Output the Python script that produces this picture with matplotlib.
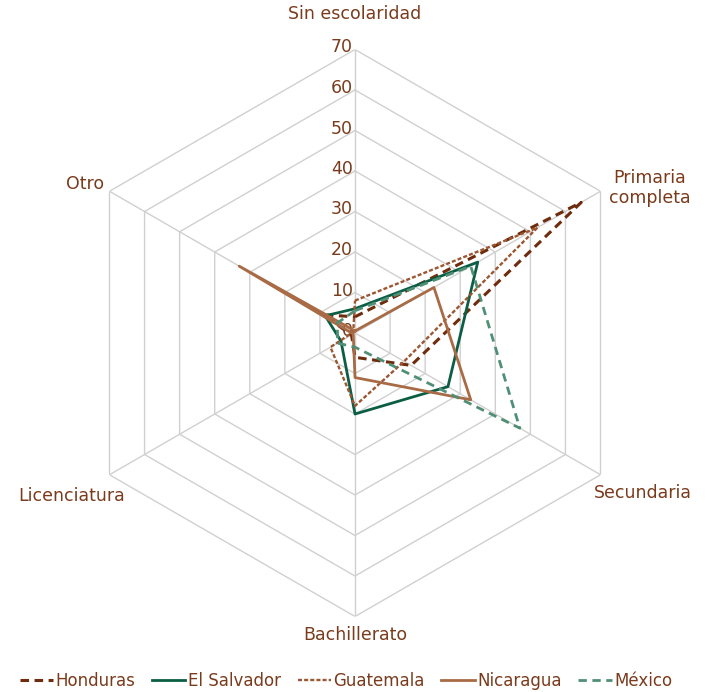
import numpy as np
import matplotlib
matplotlib.use("Agg")
import matplotlib.pyplot as plt
from matplotlib.transforms import offset_copy

# categories (clockwise from the top)
categories = ["Sin escolaridad", "Primaria\ncompleta", "Secundaria",
              "Bachillerato", "Licenciatura", "Otro"]

# percentage of each group, same order as categories
honduras = [4, 64.5, 16, 6, 1, 9]
el_salvador = [6, 35, 26.5, 20, 4, 8.5]
guatemala = [8, 52, 14, 18, 7, 0.5]
nicaragua = [0.5, 22.5, 33, 11, 0.5, 33]
mexico = [5.5, 33, 47, 3.5, 5, 5]

ring_levels = [0, 10, 20, 30, 40, 50, 60, 70]

text_color = "#7a3b1c"
grid_color = "#d0d0d0"

series = [
    ("Honduras", honduras, "#6e2c0c", (2.8, 1.8), 2.2),
    ("El Salvador", el_salvador, "#0b5e44", None, 2.0),
    ("Guatemala", guatemala, "#9c5632", (1.7, 0.9), 1.7),
    ("Nicaragua", nicaragua, "#a86b45", None, 2.0),
    ("México", mexico, "#4f8f75", (3.0, 2.0), 2.0),
]

W, H = 709, 692
fig = plt.figure(figsize=(W / 100, H / 100), dpi=100)

# polar axes centred at (355, 333) px, radius 283.5 px for 70
cx, cy, rad = 355, 333, 283.5
ax = fig.add_axes([(cx - rad) / W, (H - cy - rad) / H, 2 * rad / W, 2 * rad / H],
                  projection="polar")
ax.set_theta_offset(np.pi / 2)
ax.set_theta_direction(-1)
ax.set_ylim(0, 70)
ax.grid(False)
ax.spines["polar"].set_visible(False)
ax.set_xticks([])
ax.set_yticks([])
ax.patch.set_alpha(0)

n = len(categories)
angles = np.linspace(0, 2 * np.pi, n, endpoint=False)
closed = np.append(angles, angles[0])

# hexagonal grid
for lvl in ring_levels[1:]:
    ax.plot(closed, [lvl] * (n + 1), color=grid_color, lw=1, zorder=1)
for a in angles:
    ax.plot([a, a], [0, ring_levels[-1]], color=grid_color, lw=1, zorder=1)

# radial tick labels
lab_tr = offset_copy(ax.transData, fig=fig, x=-2, y=2, units="dots")
for lvl in ring_levels:
    ax.text(0, lvl, str(lvl), transform=lab_tr, ha="right", va="center",
            fontsize=12.5, color=text_color, zorder=2)

# data series
handles = []
for name, vals, col, dash, lw in series:
    v = vals + vals[:1]
    line, = ax.plot(closed, v, color=col, lw=lw, zorder=3, label=name)
    if dash is not None:
        line.set_dashes(dash)
    handles.append(line)

# category labels
label_pos = [(355, 14), (650, 188), (643, 493), (355, 635), (72, 496), (85, 184)]
for lab, (px, py) in zip(categories, label_pos):
    fig.text(px / W, 1 - py / H, lab, ha="center", va="center",
             fontsize=12.5, color=text_color, linespacing=1.1)

fig.legend(handles=handles, loc="center", bbox_to_anchor=(0.488, 1 - 681 / H),
           ncol=5, frameon=False, fontsize=12, labelcolor=text_color,
           handlelength=2.0, handletextpad=0.15, columnspacing=1.0)

fig.savefig("out.png", dpi=100)
